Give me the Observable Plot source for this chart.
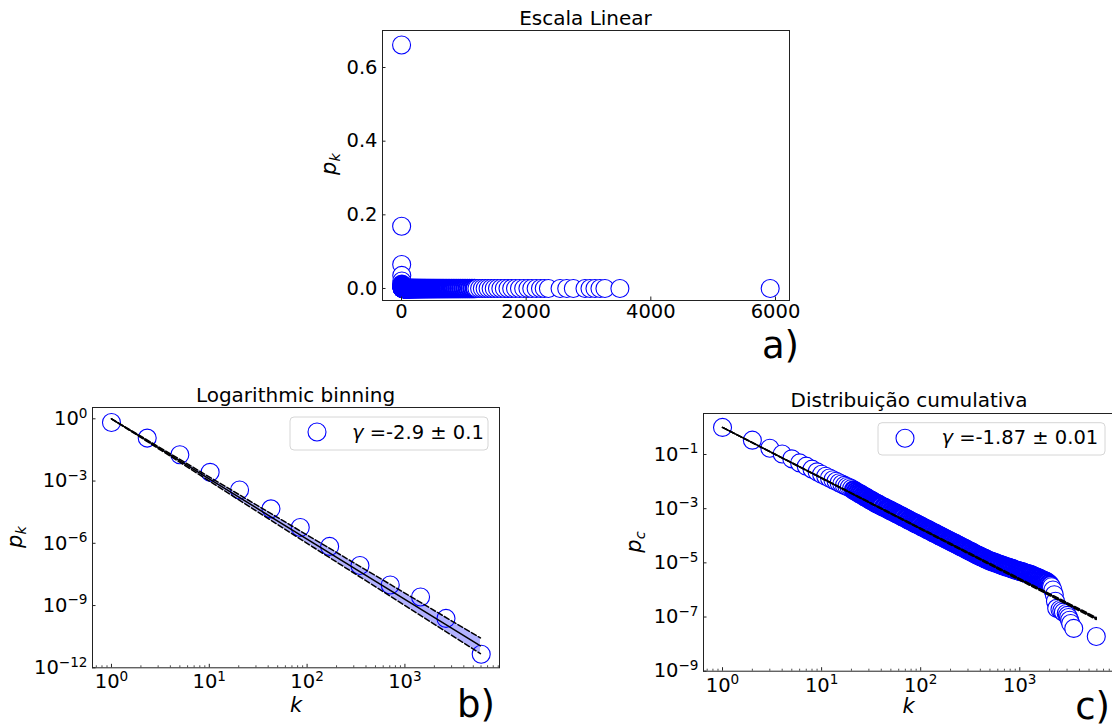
<!DOCTYPE html>
<html>
<head>
<meta charset="utf-8">
<script src="https://cdn.jsdelivr.net/npm/d3@7"></script>
<script src="https://cdn.jsdelivr.net/npm/@observablehq/plot@0.6"></script>
<style>
html, body { margin: 0; padding: 0; background: #fff; }
#wrap { position: relative; width: 1112px; height: 727px; overflow: hidden; background: #fff; font-family: "DejaVu Sans", sans-serif; }
#wrap svg { position: absolute; left: 0; top: 0; }
</style>
</head>
<body>
<div id="wrap"></div>
<script>
// ---------------- DATA ----------------
// Degrees k present in the network (shared by panel a and panel c)
const degrees = [
  1,2,3,4,5,6,7,8,9,10,11,12,13,14,15,16,17,18,19,20,
  21,22,23,24,25,26,27,28,29,30,31,32,33,34,35,36,37,38,39,40,
  42,43,45,46,48,50,51,53,55,57,59,61,63,65,67,70,72,75,77,80,
  83,86,89,92,95,98,102,105,109,113,117,121,125,129,134,139,143,148,154,159,
  165,170,176,182,189,195,202,209,217,224,232,240,249,257,266,276,285,295,306,316,
  328,339,351,363,376,389,
  403,417,431,446,462,478,495,512,530,549,568,588,608,630,652,674,698,722,748,774,
  801,829,858,888,919,951,985,1019,1055,1092,1130,1169,1210,1253,1297,1342,1389,1438,1488,1540,
  1594,1650,1708,1768,1829,1893,1960,2028,
  2090,2160,2230,2290,2357,2544,2651,2757,2944,3024,3104,3184,3264,3504,5915
];
// log10 of cumulative distribution p_c at each degree (panel c)
const cumLog10 = [
  0,-0.47,-0.77,-0.98,-1.16,-1.31,-1.43,-1.54,-1.64,-1.73,-1.80,-1.87,-1.93,-1.99,-2.04,-2.09,-2.14,-2.18,-2.22,-2.26,
  -2.31,-2.36,-2.40,-2.44,-2.47,-2.51,-2.55,-2.58,-2.61,-2.65,-2.68,-2.70,-2.73,-2.76,-2.79,-2.81,-2.83,-2.85,-2.88,-2.90,
  -2.94,-2.95,-2.99,-3.01,-3.04,-3.08,-3.09,-3.12,-3.15,-3.18,-3.21,-3.24,-3.26,-3.29,-3.31,-3.35,-3.37,-3.41,-3.43,-3.46,
  -3.49,-3.52,-3.55,-3.57,-3.60,-3.62,-3.66,-3.68,-3.71,-3.74,-3.77,-3.79,-3.82,-3.85,-3.88,-3.91,-3.93,-3.96,-3.99,-4.02,
  -4.05,-4.07,-4.10,-4.13,-4.16,-4.18,-4.21,-4.24,-4.27,-4.29,-4.32,-4.35,-4.38,-4.41,-4.43,-4.46,-4.49,-4.52,-4.55,-4.57,
  -4.60,-4.63,-4.66,-4.69,-4.72,-4.74,
  -4.77,-4.79,-4.82,-4.84,-4.87,-4.90,-4.92,-4.94,-4.96,-4.98,-5.00,-5.02,-5.04,-5.06,-5.08,-5.10,-5.12,-5.14,-5.15,-5.17,
  -5.19,-5.21,-5.23,-5.25,-5.27,-5.28,-5.30,-5.32,-5.33,-5.35,-5.37,-5.39,-5.40,-5.42,-5.44,-5.46,-5.49,-5.51,-5.53,-5.56,
  -5.58,-5.61,-5.63,-5.66,-5.68,-5.71,-5.76,-5.81,
  -5.88,-6.00,-6.18,-6.42,-6.68,-6.72,-6.77,-6.82,-6.87,-6.94,-7.02,-7.12,-7.24,-7.42,-7.72
];
// Logarithmic binning (panel b)
const binK = [1, 2.32, 5.0, 10.2, 20.4, 42.7, 85.1, 170, 347, 708, 1445, 2630, 6026];
const binLog10P = [-0.18, -0.93, -1.73, -2.58, -3.43, -4.34, -5.24, -6.15, -7.07, -8.01, -8.59, -9.62, -11.35];
// Fit exponents (from legends)
const gammaBin = -2.9, gammaBinErr = 0.1;
const gammaCum = -1.87, gammaCumErr = 0.01;
// Tick values
const ticksAx = [0, 2000, 4000, 6000];
const ticksAy = [0.0, 0.2, 0.4, 0.6];
const ticksLogX = [1, 10, 100, 1000];
const ticksBy = [1, 1e-3, 1e-6, 1e-9, 1e-12];
const ticksCy = [1e-1, 1e-3, 1e-5, 1e-7, 1e-9];
const minorLogX = [0.7,0.8,0.9,2,3,4,5,6,7,8,9,20,30,40,50,60,70,80,90,200,300,400,500,600,700,800,900,2000,3000,4000,5000,6000,7000,8000,9000];
// Texts
const titleA = "Escala Linear", titleB = "Logarithmic binning", titleC = "Distribuição cumulativa";
const legendB = " =-2.9 ± 0.1", legendC = " =-1.87 ± 0.01";

if (degrees.length !== cumLog10.length) throw new Error("length mismatch " + degrees.length + " vs " + cumLog10.length);

// ---------------- TABLES ----------------
const pc = cumLog10.map(v => 10 ** v);
const tableC = degrees.map((k, i) => ({k, p: pc[i]}));
// p_k from the cumulative distribution: p_c(k_i) - p_c(k_{i+1})
const tableA = degrees.map((k, i) => ({k, p: pc[i] - (i + 1 < pc.length ? pc[i + 1] : 0)}));
const tableB = binK.map((k, i) => ({k, p: 10 ** binLog10P[i]}));
const kEnds = [1, degrees[degrees.length - 1]];
const fitB = kEnds.map(k => ({k, mid: k ** gammaBin, hi: k ** (gammaBin + gammaBinErr), lo: k ** (gammaBin - gammaBinErr)}));
const fitC = kEnds.map(k => ({k, mid: k ** gammaCum, hi: k ** (gammaCum + gammaCumErr), lo: k ** (gammaCum - gammaCumErr)}));

const BLUE = "#0000ff";
const AX = "#222";
const FONT = "DejaVu Sans";
const baseStyle = {background: "transparent", fontFamily: FONT, fontSize: "19.5px", color: "#000", maxWidth: "none", overflow: "hidden"};
const supFmt = d => "10^" + String(Math.round(Math.log10(d))).replace("-", "\u2212");

function supify(svg) {
  d3.select(svg).selectAll("text").each(function () {
    const m = /^10\^(.*)$/.exec(this.textContent);
    if (!m) return;
    const s = d3.select(this);
    s.text("10");
    s.append("tspan").attr("dy", -7.5).attr("font-size", "13.6px").text(m[1]);
  });
}

const wrap = document.getElementById("wrap");
// thin rings for isolated points; slightly heavier rings where the markers pile up into a solid band
const thin = {r: 9, fill: "white", stroke: BLUE, strokeWidth: 1.1};
const dense = {r: 8.6, fill: "white", stroke: BLUE, strokeWidth: 2.3};
const dash = "5.5,2.4";

// ---------------- PANEL A ----------------
{
  const W = 1112, H = 727, mL = 382, mR = 323, mT = 30, mB = 427;
  const fw = W - mL - mR, fh = H - mT - mB;
  const plot = Plot.plot({
    width: W, height: H, marginLeft: mL, marginRight: mR, marginTop: mT, marginBottom: mB,
    style: baseStyle,
    x: {domain: [-305, 6225], ticks: ticksAx, tickSize: 0, tickPadding: 3.5, tickFormat: d => String(d), label: null},
    y: {domain: [-0.0326, 0.7005], ticks: ticksAy, tickSize: 0, tickPadding: 5, tickFormat: d => d.toFixed(1), label: null},
    marks: [
      Plot.dot(tableA, {x: "k", y: "p", filter: d => d.k <= 5, ...thin}),
      Plot.dot(tableA, {x: "k", y: "p", filter: d => d.k > 5 && d.k <= 1170, ...dense}),
      Plot.dot(tableA, {x: "k", y: "p", filter: d => d.k > 1170, ...thin}),
      Plot.tickX(ticksAx, {x: d => d, insetTop: fh - 3.5, stroke: AX}),
      Plot.tickY(ticksAy, {y: d => d, insetRight: fw - 3.5, stroke: AX}),
      Plot.frame({stroke: AX, strokeWidth: 1})
    ]
  });
  wrap.appendChild(plot);
}

// ---------------- PANEL B ----------------
{
  const W = 1112, H = 727, mL = 92, mR = 613, mT = 407, mB = 59.7;
  const fw = W - mL - mR, fh = H - mT - mB;
  const plot = Plot.plot({
    width: W, height: H, marginLeft: mL, marginRight: mR, marginTop: mT, marginBottom: mB,
    style: baseStyle,
    x: {type: "log", domain: [10 ** -0.194, 10 ** 3.967], ticks: ticksLogX, tickSize: 0, tickPadding: 6.5, tickFormat: supFmt, label: null},
    y: {type: "log", domain: [1e-12, 10 ** 0.545], ticks: ticksBy, tickSize: 0, tickPadding: 5, tickFormat: supFmt, label: null},
    marks: [
      Plot.dot(tableB, {x: "k", y: "p", ...thin}),
      Plot.areaY(fitB, {x: "k", y1: "lo", y2: "hi", fill: BLUE, fillOpacity: 0.3}),
      Plot.line(fitB, {x: "k", y: "hi", stroke: "black", strokeWidth: 1.5, strokeDasharray: dash}),
      Plot.line(fitB, {x: "k", y: "lo", stroke: "black", strokeWidth: 1.5, strokeDasharray: dash}),
      Plot.line(fitB, {x: "k", y: "mid", stroke: "black", strokeWidth: 1.5}),
      Plot.tickX(ticksLogX, {x: d => d, insetTop: fh - 3.5, stroke: AX}),
      Plot.tickX(minorLogX, {x: d => d, insetTop: fh - 2, stroke: AX, strokeWidth: 0.8}),
      Plot.tickY(ticksBy, {y: d => d, insetRight: fw - 3.5, stroke: AX}),
      Plot.frame({stroke: AX, strokeWidth: 1})
    ]
  });
  supify(plot);
  wrap.appendChild(plot);
}

// ---------------- PANEL C ----------------
{
  const W = 1116, H = 727, mL = 703, mR = 0.6, mT = 413, mB = 56.3;
  const fw = W - mL - mR, fh = H - mT - mB;
  const plot = Plot.plot({
    width: W, height: H, marginLeft: mL, marginRight: mR, marginTop: mT, marginBottom: mB,
    style: baseStyle,
    x: {type: "log", domain: [10 ** -0.192, 10 ** 3.97], ticks: ticksLogX, tickSize: 0, tickPadding: 6.5, tickFormat: supFmt, label: null},
    y: {type: "log", domain: [1e-9, 10 ** 0.514], ticks: ticksCy, tickSize: 0, tickPadding: 5, tickFormat: supFmt, label: null},
    marks: [
      Plot.dot(tableC, {x: "k", y: "p", filter: d => d.k <= 20, ...thin}),
      Plot.dot(tableC, {x: "k", y: "p", filter: d => d.k > 20 && d.k <= 2028, ...dense}),
      Plot.dot(tableC, {x: "k", y: "p", filter: d => d.k > 2028, ...thin}),
      Plot.areaY(fitC, {x: "k", y1: "lo", y2: "hi", fill: BLUE, fillOpacity: 0.3}),
      Plot.line(fitC, {x: "k", y: "mid", stroke: "black", strokeWidth: 1.5}),
      Plot.line(fitC, {x: "k", y: "hi", stroke: "black", strokeWidth: 1.5, strokeDasharray: dash}),
      Plot.line(fitC, {x: "k", y: "lo", stroke: "black", strokeWidth: 1.5, strokeDasharray: dash}),
      Plot.tickX(ticksLogX, {x: d => d, insetTop: fh - 3.5, stroke: AX}),
      Plot.tickX(minorLogX, {x: d => d, insetTop: fh - 2, stroke: AX, strokeWidth: 0.8}),
      Plot.tickY(ticksCy, {y: d => d, insetRight: fw - 3.5, stroke: AX}),
      Plot.frame({stroke: AX, strokeWidth: 1})
    ]
  });
  supify(plot);
  wrap.appendChild(plot);
}

// ---------------- OVERLAY TEXT (titles, labels, legends, panel letters) ----------------
{
  const svg = d3.create("svg").attr("width", 1112).attr("height", 727)
    .attr("font-family", FONT).style("pointer-events", "none");
  const title = (x, y, t) => svg.append("text").attr("x", x).attr("y", y).attr("text-anchor", "middle").attr("font-size", 20).text(t);
  title(585.5, 24.5, titleA);
  title(295.5, 401.5, titleB);
  title(909, 406.5, titleC);

  const ylab = (x, y, sub) => {
    const t = svg.append("text").attr("transform", `translate(${x},${y}) rotate(-90)`)
      .attr("text-anchor", "middle").attr("font-size", 21).attr("font-style", "italic");
    t.append("tspan").text("p");
    t.append("tspan").attr("dy", 4).attr("font-size", 14.5).text(sub);
  };
  ylab(336, 164, "k");
  ylab(22, 537, "k");
  ylab(641, 542, "c");

  const xlab = (x, y) => svg.append("text").attr("x", x).attr("y", y).attr("text-anchor", "middle")
    .attr("font-size", 21).attr("font-style", "italic").text("k");
  xlab(296, 711.5);
  xlab(908.5, 713);

  const legend = (x, y, w, h, cx, cy, tx, ty, label) => {
    svg.append("rect").attr("x", x).attr("y", y).attr("width", w).attr("height", h).attr("rx", 4)
      .attr("fill", "white").attr("fill-opacity", 0.8).attr("stroke", "#d6d6d6").attr("stroke-width", 1);
    svg.append("circle").attr("cx", cx).attr("cy", cy).attr("r", 9).attr("fill", "white").attr("stroke", BLUE).attr("stroke-width", 1.1);
    const t = svg.append("text").attr("x", tx).attr("y", ty).attr("font-size", 19.5);
    t.append("tspan").attr("font-style", "italic").text("γ");
    t.append("tspan").text(label);
  };
  legend(290, 417, 198, 33, 317, 432, 352, 438.5, legendB);
  legend(878, 422.7, 227, 32.3, 905, 438.3, 941.5, 443.5, legendC);

  const letter = (x, y, t) => svg.append("text").attr("x", x).attr("y", y).attr("text-anchor", "end").attr("font-size", 37).text(t);
  letter(799, 358, "a)");
  letter(495, 717, "b)");
  letter(1110, 718.5, "c)");

  wrap.appendChild(svg.node());
}
</script>
</body>
</html>
